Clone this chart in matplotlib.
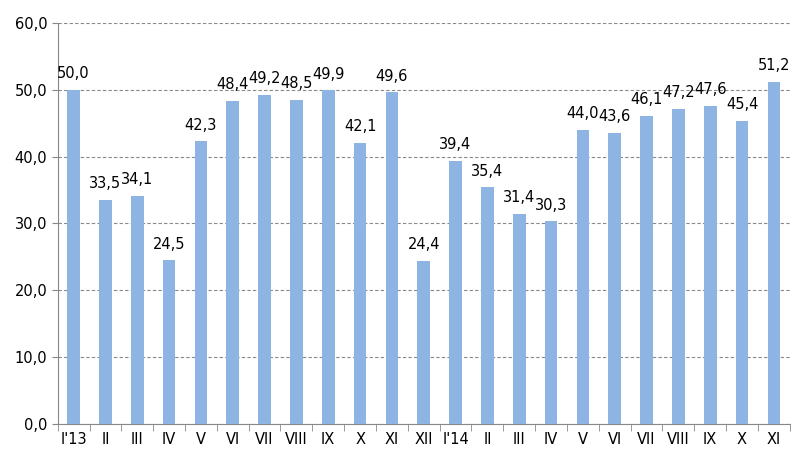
import matplotlib
matplotlib.use("Agg")
import matplotlib.pyplot as plt
import numpy as np

categories = ["I'13","II","III","IV","V","VI","VII","VIII","IX","X","XI","XII",
              "I'14","II","III","IV","V","VI","VII","VIII","IX","X","XI"]
values = [50.0,33.5,34.1,24.5,42.3,48.4,49.2,48.5,49.9,42.1,49.6,24.4,
          39.4,35.4,31.4,30.3,44.0,43.6,46.1,47.2,47.6,45.4,51.2]

fig = plt.figure(figsize=(8.01,4.69), dpi=100)
ax = fig.add_axes([0.072,0.096,0.914,0.855])
x = np.arange(len(values))
ax.bar(x, values, width=0.4, color="#8DB4E2", zorder=3)
for xi, v in zip(x, values):
    ax.text(xi, v+1.3, f"{v:.1f}".replace(".", ","), ha="center", va="bottom", fontsize=10.5)
ax.set_xlim(-0.5, len(values)-0.5)
ax.set_ylim(0, 60)
ax.set_yticks(np.arange(0, 61, 10))
ax.set_yticklabels([f"{t:.1f}".replace(".", ",") for t in np.arange(0, 61, 10)], fontsize=10.5)
ax.yaxis.grid(True, linestyle=(0,(3,2)), color="#888888", linewidth=0.8, zorder=0)
ax.set_xticks(x)
ax.set_xticklabels(categories, fontsize=10.5)
ax.tick_params(axis="x", length=0, pad=6)
ax.set_xticks(np.arange(-0.5, len(values), 1), minor=True)
ax.tick_params(axis="x", which="minor", length=5, color="#888888")
ax.tick_params(axis="y", length=4, color="#888888")
for s in ["top","right"]:
    ax.spines[s].set_visible(False)
for s in ["left","bottom"]:
    ax.spines[s].set_color("#888888")
fig.savefig("out.png", dpi=100)
